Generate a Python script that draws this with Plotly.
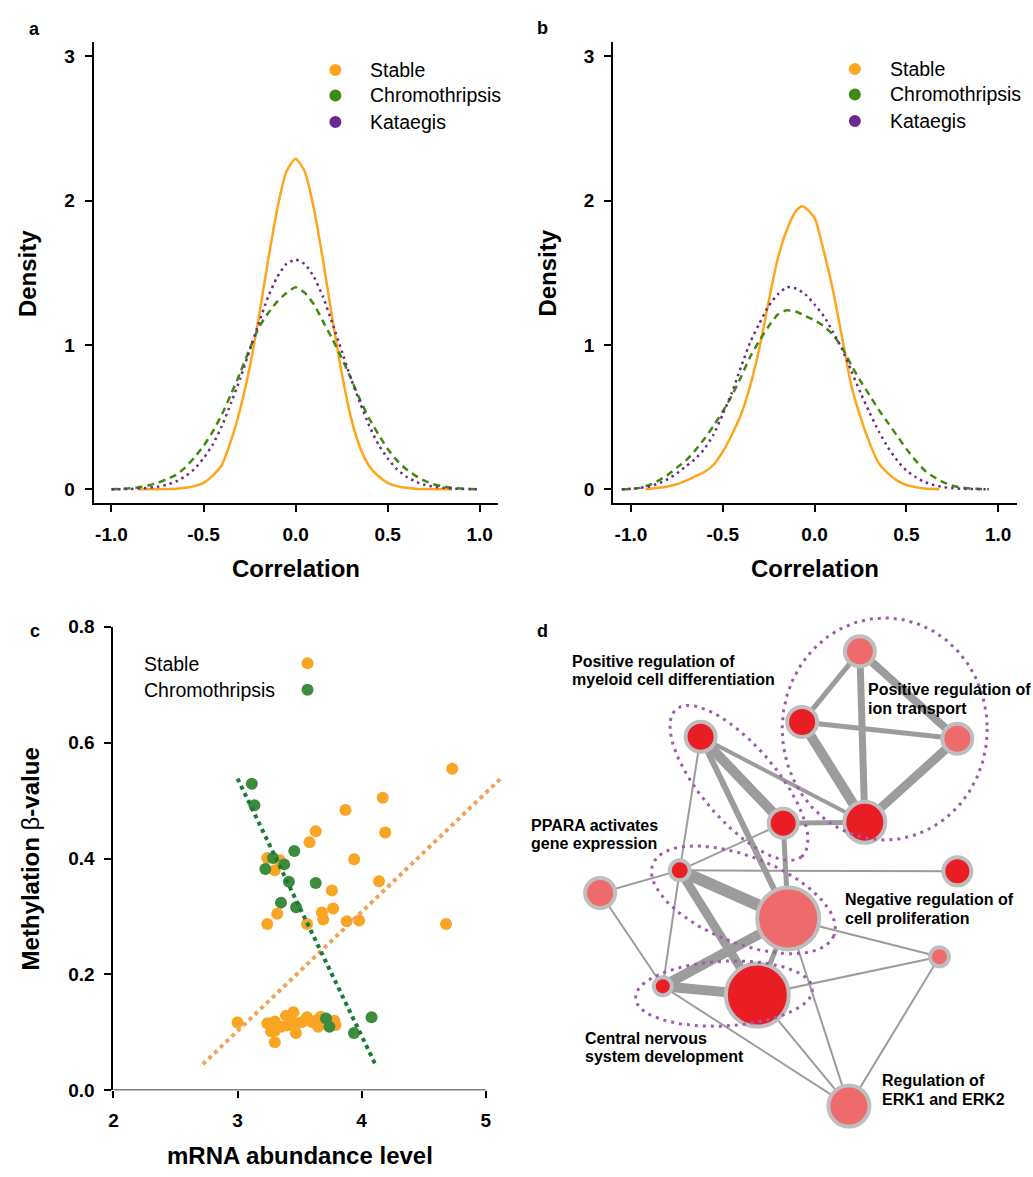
import numpy as np
import plotly.graph_objects as go

W, H = 1033, 1177
FONT = "Liberation Sans, Arial, Helvetica, sans-serif"

# ---------------- Panel a : density of correlation ----------------
a_stable_x = [-0.85, -0.80, -0.75, -0.70, -0.65, -0.60, -0.55, -0.50, -0.45, -0.40, -0.35, -0.30,
              -0.25, -0.20, -0.15, -0.10, -0.05, 0.00, 0.05, 0.10, 0.15, 0.20, 0.25, 0.30, 0.35,
              0.40, 0.45, 0.50, 0.55, 0.60, 0.65, 0.70, 0.75, 0.80, 0.85]
a_stable_y = [0.0, 0.0, 0.001, 0.002, 0.004, 0.010, 0.022, 0.045, 0.095, 0.17, 0.34, 0.56,
              0.84, 1.19, 1.58, 1.94, 2.20, 2.29, 2.20, 1.94, 1.58, 1.18, 0.81, 0.50, 0.29,
              0.16, 0.09, 0.045, 0.022, 0.010, 0.004, 0.002, 0.001, 0.0, 0.0]
a_grid = [-1.00, -0.95, -0.90, -0.85, -0.80, -0.75, -0.70, -0.65, -0.60, -0.55, -0.50, -0.45,
          -0.40, -0.35, -0.30, -0.25, -0.20, -0.15, -0.10, -0.05, 0.00, 0.05, 0.10, 0.15, 0.20,
          0.25, 0.30, 0.35, 0.40, 0.45, 0.50, 0.55, 0.60, 0.65, 0.70, 0.75, 0.80, 0.85, 0.90,
          0.95, 1.00]
a_chromo_y = [0.0, 0.003, 0.007, 0.014, 0.026, 0.045, 0.07, 0.10, 0.15, 0.22, 0.30, 0.40,
              0.52, 0.66, 0.81, 0.97, 1.12, 1.22, 1.30, 1.36, 1.40, 1.36, 1.28, 1.16, 1.04,
              0.91, 0.77, 0.62, 0.49, 0.38, 0.28, 0.20, 0.14, 0.095, 0.06, 0.035, 0.02, 0.01,
              0.005, 0.002, 0.0]
a_kata_y = [0.0, 0.001, 0.002, 0.005, 0.01, 0.018, 0.031, 0.054, 0.089, 0.14, 0.215, 0.31,
            0.44, 0.60, 0.77, 0.96, 1.15, 1.33, 1.47, 1.56, 1.59, 1.56, 1.47, 1.33, 1.15,
            0.96, 0.77, 0.60, 0.44, 0.31, 0.215, 0.14, 0.089, 0.054, 0.031, 0.018, 0.01,
            0.005, 0.002, 0.001, 0.0]

# ---------------- Panel b ----------------
b_stable_x = [-0.92, -0.85, -0.80, -0.75, -0.70, -0.65, -0.60, -0.55, -0.50, -0.45, -0.40,
              -0.35, -0.30, -0.25, -0.20, -0.15, -0.10, -0.07, -0.05, 0.00, 0.05, 0.10, 0.15,
              0.20, 0.25, 0.30, 0.35, 0.40, 0.45, 0.50, 0.55, 0.60, 0.68]
b_stable_y = [0.0, 0.01, 0.02, 0.035, 0.06, 0.09, 0.12, 0.17, 0.26, 0.38, 0.52, 0.72, 0.98,
              1.30, 1.60, 1.80, 1.93, 1.96, 1.95, 1.88, 1.65, 1.38, 1.05, 0.72, 0.50, 0.32,
              0.18, 0.11, 0.06, 0.03, 0.015, 0.005, 0.0]
b_grid = [-1.05, -1.00, -0.95, -0.90, -0.85, -0.80, -0.75, -0.70, -0.65, -0.60, -0.55, -0.50,
          -0.45, -0.40, -0.35, -0.30, -0.25, -0.20, -0.15, -0.10, -0.05, 0.00, 0.05, 0.10,
          0.15, 0.20, 0.25, 0.30, 0.35, 0.40, 0.45, 0.50, 0.55, 0.60, 0.65, 0.70, 0.75, 0.80,
          0.85, 0.90, 0.95]
b_chromo_y = [0.0, 0.003, 0.01, 0.03, 0.06, 0.10, 0.15, 0.20, 0.27, 0.35, 0.44, 0.54, 0.65,
              0.78, 0.92, 1.03, 1.13, 1.21, 1.24, 1.23, 1.20, 1.17, 1.13, 1.07, 0.98, 0.86,
              0.75, 0.65, 0.55, 0.46, 0.37, 0.28, 0.20, 0.13, 0.085, 0.05, 0.025, 0.012,
              0.005, 0.002, 0.0]
b_kata_y = [0.0, 0.003, 0.01, 0.02, 0.04, 0.07, 0.11, 0.16, 0.21, 0.28, 0.38, 0.52, 0.67,
            0.85, 1.02, 1.15, 1.27, 1.35, 1.40, 1.39, 1.35, 1.28, 1.20, 1.09, 0.97, 0.82,
            0.67, 0.53, 0.40, 0.29, 0.20, 0.13, 0.085, 0.05, 0.03, 0.015, 0.008, 0.004,
            0.002, 0.001, 0.0]

density_ticks_x = [-1.0, -0.5, 0.0, 0.5, 1.0]
density_ticktext_x = ["-1.0", "-0.5", "0.0", "0.5", "1.0"]
density_ticks_y = [0, 1, 2, 3]
density_ticktext_y = ["0", "1", "2", "3"]
groups3 = ["Stable", "Chromothripsis", "Kataegis"]

# ---------------- Panel c : scatter ----------------
c_stable_x = [4.73, 4.17, 3.87, 3.63, 4.19, 3.58, 3.94, 3.24, 3.34, 3.30, 4.14, 3.76, 3.32,
              3.77, 3.68, 3.69, 3.88, 3.98, 3.24, 3.56, 4.68,
              3.00, 3.24, 3.30, 3.27, 3.30, 3.30, 3.39, 3.45, 3.40, 3.48, 3.47, 3.52, 3.56,
              3.64, 3.67, 3.65, 3.78, 3.79, 3.42, 3.60, 3.35]
c_stable_y = [0.555, 0.505, 0.484, 0.447, 0.445, 0.428, 0.399, 0.401, 0.397, 0.380, 0.361,
              0.345, 0.305, 0.314, 0.307, 0.295, 0.292, 0.293, 0.287, 0.287, 0.287,
              0.117, 0.116, 0.119, 0.102, 0.103, 0.083, 0.129, 0.135, 0.112, 0.116, 0.099,
              0.118, 0.126, 0.121, 0.127, 0.110, 0.120, 0.113, 0.125, 0.118, 0.110]
c_chromo_x = [3.115, 3.136, 3.457, 3.285, 3.224, 3.376, 3.414, 3.630, 3.350, 3.472, 3.713,
              3.740, 3.938, 4.080]
c_chromo_y = [0.529, 0.492, 0.413, 0.401, 0.382, 0.390, 0.360, 0.358, 0.324, 0.316, 0.124,
              0.110, 0.099, 0.126]
c_stable_fit_x = [2.72, 5.12]
c_stable_fit_y = [0.045, 0.538]
c_chromo_fit_x = [3.00, 4.11]
c_chromo_fit_y = [0.538, 0.045]
c_ticks_x = [2, 3, 4, 5]
c_ticktext_x = ["2", "3", "4", "5"]
c_ticks_y = [0.0, 0.2, 0.4, 0.6, 0.8]
c_ticktext_y = ["0.0", "0.2", "0.4", "0.6", "0.8"]

# ---------------- Panel d : enrichment network ----------------
node_x = [339, 281, 437, 344, 179, 262, 158, 437, 78, 267, 419, 141, 236, 328]
node_y = [53, 125, 142, 227, 140, 228, 276, 277, 299, 325, 364, 394, 403, 516]
node_r = [17, 17, 17, 22.5, 17, 16.5, 12, 16, 17, 33, 11.5, 11, 33.5, 22.5]
node_dark = [False, True, False, True, True, True, True, True, False, False, False, True, True, False]
edges = [(0, 1, 5), (0, 3, 7), (0, 2, 8), (1, 2, 5), (1, 3, 10), (2, 3, 9), (4, 3, 4),
         (5, 3, 5), (4, 5, 10), (4, 9, 6), (4, 6, 2), (5, 6, 2), (5, 9, 5), (6, 7, 2),
         (6, 8, 2), (6, 9, 12), (6, 12, 9), (6, 11, 2), (8, 11, 2), (11, 12, 10), (11, 9, 10),
         (11, 13, 2), (12, 9, 5), (12, 10, 2), (12, 13, 2), (9, 10, 2), (9, 13, 2), (10, 13, 2)]
# cluster outlines: centre x, centre y, semi-axis a, semi-axis b, tilt (deg)
clusters = [(364, 132, 103, 113, 0), (217.5, 187, 98, 38, 50), (222, 306, 98, 44, 22),
            (202.5, 401.5, 89, 33, -3)]
cluster_labels = [
    (["Positive regulation of", "myeloid cell differentiation"], 48, 63),
    (["Positive regulation of", "ion transport"], 345, 92),
    (["PPARA activates", "gene expression"], 7, 230),
    (["Negative regulation of", "cell proliferation"], 322, 306),
    (["Central nervous", "system development"], 61, 447),
    (["Regulation of", "ERK1 and ERK2"], 359, 490),
]

# ---------------- colours ----------------
C_ORANGE = "#FFA51C"
C_GREEN = "#3F8A10"
C_PURPLE = "#6B2A8F"
C_ORANGE_PT = "#F9A524"
C_GREEN_PT = "#3D8C3E"
C_ORANGE_FIT = "#EFA258"
C_GREEN_FIT = "#187A38"
C_RED = "#E91E24"
C_LIGHT = "#EE6A6C"
C_BORDER = "#BEBEBE"
C_EDGE = "#9C9C9C"
C_ELL = "#A05AAF"


def fx(px):
    return px / W


def fy(py):
    return 1 - py / H


fig = go.Figure()


def line_trace(x, y, color, dash, xa, ya, width=2.5):
    fig.add_trace(go.Scatter(x=x, y=y, mode="lines", xaxis=xa, yaxis=ya, hoverinfo="skip",
                             line=dict(color=color, width=width, dash=dash, shape="spline",
                                       smoothing=0.6)))


# panel a
line_trace(a_stable_x, a_stable_y, C_ORANGE, "solid", "x", "y")
line_trace(a_grid, a_chromo_y, C_GREEN, "7px,5px", "x", "y")
line_trace(a_grid, a_kata_y, C_PURPLE, "2.5px,4px", "x", "y")
# panel b
line_trace(b_stable_x, b_stable_y, C_ORANGE, "solid", "x2", "y2")
line_trace(b_grid, b_chromo_y, C_GREEN, "7px,5px", "x2", "y2")
line_trace(b_grid, b_kata_y, C_PURPLE, "2.5px,4px", "x2", "y2")

# panel c
fig.add_trace(go.Scatter(x=c_stable_x, y=c_stable_y, mode="markers", xaxis="x3", yaxis="y3",
                         marker=dict(color=C_ORANGE_PT, size=12, line=dict(width=0)),
                         hoverinfo="skip"))
fig.add_trace(go.Scatter(x=c_chromo_x, y=c_chromo_y, mode="markers", xaxis="x3", yaxis="y3",
                         marker=dict(color=C_GREEN_PT, size=12, line=dict(width=0)),
                         hoverinfo="skip"))
fig.add_trace(go.Scatter(x=c_stable_fit_x, y=c_stable_fit_y, mode="lines", xaxis="x3",
                         yaxis="y3", line=dict(color=C_ORANGE_FIT, width=4, dash="4px,4px"),
                         hoverinfo="skip"))
fig.add_trace(go.Scatter(x=c_chromo_fit_x, y=c_chromo_fit_y, mode="lines", xaxis="x3",
                         yaxis="y3", line=dict(color=C_GREEN_FIT, width=4, dash="4px,4px"),
                         hoverinfo="skip"))

# panel d edges
for i, j, w in edges:
    fig.add_trace(go.Scatter(x=[node_x[i], node_x[j]], y=[node_y[i], node_y[j]], mode="lines",
                             xaxis="x4", yaxis="y4", hoverinfo="skip",
                             line=dict(color=C_EDGE, width=w)))
# nodes
BW = 4
fig.add_trace(go.Scatter(x=node_x, y=node_y, mode="markers", xaxis="x4", yaxis="y4",
                         hoverinfo="skip",
                         marker=dict(size=[2 * r - BW for r in node_r],
                                     color=[C_RED if d else C_LIGHT for d in node_dark],
                                     line=dict(color=C_BORDER, width=BW), opacity=1)))
# cluster outlines
t = np.linspace(0, 2 * np.pi, 200)
for cx, cy, ea, eb, ang in clusters:
    th = np.deg2rad(ang)
    ex = cx + ea * np.cos(t) * np.cos(th) - eb * np.sin(t) * np.sin(th)
    ey = cy + ea * np.cos(t) * np.sin(th) + eb * np.sin(t) * np.cos(th)
    fig.add_trace(go.Scatter(x=ex, y=ey, mode="lines", xaxis="x4", yaxis="y4",
                             hoverinfo="skip",
                             line=dict(color=C_ELL, width=3, dash="3px,5px")))

# ---------------- axes ----------------
tickfont = dict(family=FONT, size=19, color="black", weight="bold")
common = dict(showgrid=False, zeroline=False, showline=True, linecolor="black", linewidth=2,
              ticks="outside", ticklen=7, tickwidth=2, tickcolor="black", tickfont=tickfont,
              ticklabelstandoff=6, fixedrange=True)

layout = dict(
    width=W, height=H, autosize=False, margin=dict(l=0, r=0, t=0, b=0),
    paper_bgcolor="white", plot_bgcolor="white", showlegend=False,
    xaxis=dict(domain=[fx(89), fx(495)], range=[-1.0973, 1.0973], anchor="y",
               tickvals=density_ticks_x, ticktext=density_ticktext_x, **common),
    yaxis=dict(domain=[fy(502), fy(33)], range=[-0.0952, 3.0952], anchor="x",
               tickvals=density_ticks_y, ticktext=density_ticktext_y, **common),
    xaxis2=dict(domain=[fx(611), fx(1017)], range=[-1.0976, 1.1030], anchor="y2",
                tickvals=density_ticks_x, ticktext=density_ticktext_x, **common),
    yaxis2=dict(domain=[fy(502), fy(33)], range=[-0.0952, 3.0952], anchor="x2",
                tickvals=density_ticks_y, ticktext=density_ticktext_y, **common),
    xaxis3=dict(domain=[fx(109), fx(508)], range=[2, 5.2], anchor="y3",
                tickvals=c_ticks_x, ticktext=c_ticktext_x, **{**common, "showline": False}),
    yaxis3=dict(domain=[fy(1100), fy(628)], range=[0, 0.8], anchor="x3",
                tickvals=c_ticks_y, ticktext=c_ticktext_y, **common),
    xaxis4=dict(domain=[fx(520), 1], range=[0, 513], anchor="y4", visible=False,
                fixedrange=True),
    yaxis4=dict(domain=[0, fy(600)], range=[577, 0], anchor="x4", visible=False,
                fixedrange=True),
)
fig.update_layout(**layout)

shapes = []
# x axis line of panel c (ends at 5 while fitted line runs past it)
shapes.append(dict(type="line", xref="x3", yref="y3", x0=2, x1=5, y0=0, y1=0,
                   line=dict(color="black", width=2)))


def dot(cx, cy, color, r=6):
    shapes.append(dict(type="circle", xref="paper", yref="paper", xsizemode="pixel",
                       ysizemode="pixel", xanchor=fx(cx), yanchor=fy(cy), x0=-r, x1=r,
                       y0=-r, y1=r, fillcolor=color, line=dict(width=0)))


annos = []


def text(s, x, y, size, bold=False, xanchor="center", angle=0, xref="paper", yref="paper"):
    if xref == "paper":
        x, y = fx(x), fy(y)
    annos.append(dict(text=s, x=x, y=y, xref=xref, yref=yref, showarrow=False,
                      xanchor=xanchor, yanchor="middle", textangle=angle,
                      font=dict(family=FONT, size=size, color="black",
                                weight="bold" if bold else "normal")))


# legends a & b
leg_cols = [C_ORANGE, C_GREEN, C_PURPLE]
for k, (name, col) in enumerate(zip(groups3, leg_cols)):
    yy = [61, 87, 114][k]
    dot(332, yy, col)
    text(name, 365, yy, 19.5, xanchor="left")
    dot(854, yy - 1, col)
    text(name, 887, yy - 1, 19.5, xanchor="left")
# legend c
dot(304, 665, C_ORANGE_PT)
text("Stable", 138, 666, 19.5, xanchor="left")
dot(304, 692, C_GREEN_PT)
text("Chromothripsis", 138, 692, 19.5, xanchor="left")

# axis titles
text("Correlation", 292, 569, 24, bold=True)
text("Density", 22, 268, 24, bold=True, angle=-90)
text("Correlation", 814, 569, 24, bold=True)
text("Density", 545, 268, 24, bold=True, angle=-90)
text("mRNA abundance level", 296, 1166, 24, bold=True)
text("<b>Methylation </b>β<b>-value</b>", 26, 864, 24, angle=-90)

# panel letters
text("a", 30, 19, 18, bold=True)
text("b", 540, 18, 18, bold=True)
text("c", 30, 632, 18, bold=True)
text("d", 540, 632, 18, bold=True)

# network labels
for lines, lx, ly in cluster_labels:
    for n, ln in enumerate(lines):
        text(ln, lx, ly + 19 * n, 16, bold=True, xanchor="left", xref="x4", yref="y4")

fig.update_layout(shapes=shapes, annotations=annos)
fig.write_html("out.html")
